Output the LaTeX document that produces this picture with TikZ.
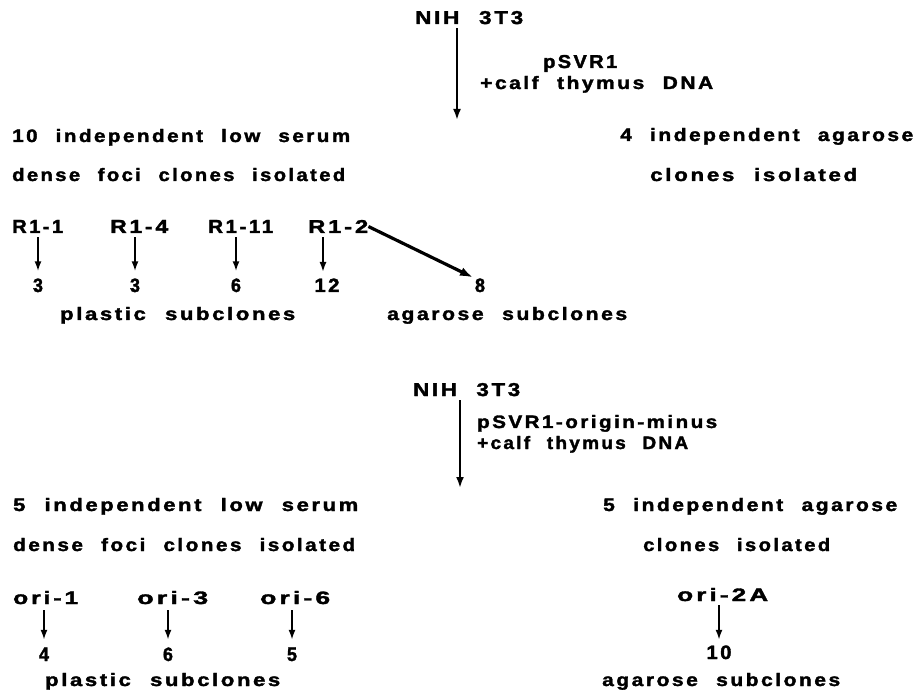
\documentclass[tikz,border=0pt]{standalone}
\usepackage{fontspec}
\usetikzlibrary{arrows.meta}
\newfontfamily\labfont[LetterSpace=12,WordSpace=2.2,FakeBold=1.8]{Liberation Sans Bold}
\newcommand{\fw}[2]{\resizebox{#1pt}{13pt}{#2}}
\newcommand{\fn}[2]{\resizebox{#1pt}{13.5pt}{#2}}
\begin{document}
\begin{tikzpicture}[x=1pt,y=-1pt,
  lbl/.style={inner sep=0pt, anchor=base west, font=\labfont\fontsize{17}{19}\selectfont},
  num/.style={inner sep=0pt, anchor=base, font=\labfont\fontsize{17}{19}\selectfont},
  arr/.style={line width=1.8pt, -{Latex[length=10pt,width=7pt]}},
  bigarr/.style={line width=2.2pt, -{Latex[length=11pt,width=8pt]}},
  diagarr/.style={line width=3.2pt, -{Latex[length=13pt,width=9pt]}}]
\path[fill=white,use as bounding box] (0,0) rectangle (921,692);

% ---------- top part ----------
\node[lbl] (nih1) at (415,24) {\fw{108}{NIH 3T3}};
\node[lbl] (psvr1) at (543,68) {\fw{74}{pSVR1}};
\node[lbl] (calf1) at (480,89) {\fw{233}{+calf thymus DNA}};
\coordinate (e1) at (457,120);
\draw[bigarr, shorten <=4pt] (nih1.south -| e1) -- (e1);

\node[lbl] (low1) at (12,142) {\fw{338}{10 independent low serum}};
\node[lbl] (agar1) at (620,141) {\fw{293}{4 independent agarose}};
\node[lbl] (dense1) at (12,181) {\fw{333}{dense foci clones isolated}};
\node[lbl] (clon1) at (650,181) {\fw{207}{clones isolated}};

\node[lbl] (r11) at (12,233) {\fw{51}{R1-1}};
\node[lbl] (r14) at (110,233) {\fw{58}{R1-4}};
\node[lbl] (r111) at (208,233) {\fw{65}{R1-11}};
\node[lbl] (r12) at (308,233) {\fw{60}{R1-2}};

\node[num] (n1) at (38,292) {\fn{10}{3}};
\node[num] (n2) at (135,292) {\fn{10}{3}};
\node[num] (n3) at (236,292) {\fn{10}{6}};
\node[num] (n4) at (327,292) {\fn{25}{12}};
\node[num] (n8) at (480,292) {\fn{10}{8}};

\foreach \a/\b in {r11/n1, r14/n2, r111/n3}
  \draw[arr, shorten <=4pt, shorten >=7pt] (\a.south -| \b.north) -- (\b.north);
\coordinate (c12) at (323,292);
\draw[arr, shorten <=4pt, shorten >=20pt] (r12.south -| c12) -- (c12);
\draw[diagarr, shorten >=2pt] (r12.east) -- (n8.north west);

\node[lbl] (plastic1) at (60,320) {\fw{235}{plastic subclones}};
\node[lbl] (agsub1) at (387,320) {\fw{240}{agarose subclones}};

% ---------- bottom part ----------
\node[lbl] (nih2) at (413,396) {\fw{107}{NIH 3T3}};
\node[lbl] (psvr2) at (477,428) {\fw{240}{pSVR1-origin-minus}};
\node[lbl] (calf2) at (477,449) {\fw{211}{+calf thymus DNA}};
\coordinate (e2) at (460,488);
\draw[bigarr, shorten <=4pt] (nih2.south -| e2) -- (e2);

\node[lbl] (low2) at (13,511) {\fw{345}{5 independent low serum}};
\node[lbl] (agar2) at (603,511) {\fw{294}{5 independent agarose}};
\node[lbl] (dense2) at (13,551) {\fw{342}{dense foci clones isolated}};
\node[lbl] (clon2) at (643,551) {\fw{187}{clones isolated}};

\node[lbl] (o1) at (13,604) {\fw{65}{ori-1}};
\node[lbl] (o3) at (137,604) {\fw{71}{ori-3}};
\node[lbl] (o6) at (260,604) {\fw{70}{ori-6}};
\node[lbl] (o2a) at (677,601) {\fw{91}{ori-2A}};

\node[num] (m1) at (44,661) {\fn{10}{4}};
\node[num] (m2) at (168,661) {\fn{10}{6}};
\node[num] (m3) at (292,661) {\fn{10}{5}};
\node[num] (m4) at (719,659) {\fn{25}{10}};

\foreach \a/\b in {o1/m1, o3/m2, o6/m3}
  \draw[arr, shorten <=6pt, shorten >=7.5pt] (\a.south -| \b.north) -- (\b.north);
\draw[arr, shorten <=4pt, shorten >=5.5pt] (o2a.south -| m4.north) -- (m4.north);

\node[lbl] (plastic2) at (45,686) {\fw{235}{plastic subclones}};
\node[lbl] (agsub2) at (602,686) {\fw{238}{agarose subclones}};
\end{tikzpicture}
\end{document}
